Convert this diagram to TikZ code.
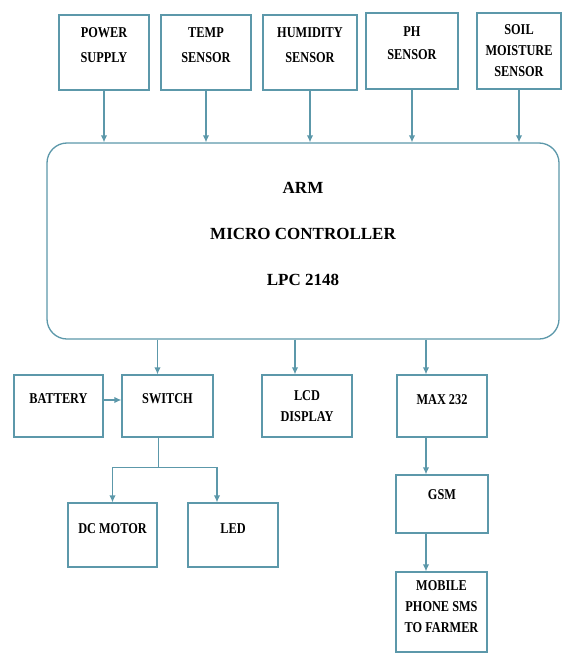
\documentclass[tikz,border=0pt]{standalone}
\usepackage{fontspec}
\setmainfont{Liberation Serif}
\newfontfamily\narrowfont[FakeStretch=0.82]{Liberation Serif}
\usetikzlibrary{arrows.meta}

\definecolor{boxline}{RGB}{92,152,170}

\tikzset{
  blk/.style 2 args={draw=boxline, line width=1.3pt, fill=white, inner sep=0pt,
    minimum width=#1, minimum height=#2},
  txt/.style={font=\narrowfont\bfseries\fontsize{15}{21}\selectfont, align=center, inner sep=0pt},
  bigtxt/.style={font=\bfseries\fontsize{17}{46}\selectfont, align=center, inner sep=0pt},
  wire/.style={draw=boxline, line width=1.3pt},
  arr/.style={wire, -{Latex[length=7pt, width=6.5pt]}}
}

\begin{document}
\begin{tikzpicture}[x=1pt, y=-1pt]
  \useasboundingbox (0,0) rectangle (563,653);
  % sensors and supply
  \node[blk={90}{75}, label={[txt, yshift=7]center:POWER\\[4pt]SUPPLY}] (pwr) at (104,52.5) {};
  \node[blk={90}{75}, label={[txt, yshift=7]center:TEMP\\[4pt]SENSOR}] (temp) at (206,52.5) {};
  \node[blk={94}{75}, label={[txt, yshift=7]center:HUMIDITY\\[4pt]SENSOR}] (hum) at (310,52.5) {};
  \node[blk={92}{76}, label={[txt, yshift=8]center:PH\\[2pt]SENSOR}] (ph) at (412,51) {};
  \node[blk={84}{76}, label={[txt]center:SOIL\\MOISTURE\\SENSOR}] (soil) at (519,51) {};
  % controller
  \node[blk={512}{196}, rounded corners=20pt,
        label={[bigtxt, yshift=7]center:ARM\\MICRO CONTROLLER\\LPC 2148}] (arm) at (303,241) {};
  \foreach \s in {pwr,temp,hum,ph,soil}
    \draw[arr] (\s.south) -- (\s.south |- arm.north);
  % second row
  \node[blk={89}{62}, label={[txt, yshift=7]center:BATTERY}] (bat) at (58.5,406) {};
  \node[blk={91}{62}, label={[txt, yshift=7]center:SWITCH}] (sw) at (167.5,406) {};
  \node[blk={90}{62}, label={[txt]center:LCD\\DISPLAY}] (lcd) at (307,406) {};
  \node[blk={90}{62}, label={[txt, yshift=6]center:MAX 232}] (max) at (442,406) {};
  % outputs
  \node[blk={89}{64}, label={[txt, yshift=6]center:DC MOTOR}] (dcm) at (112.5,535) {};
  \node[blk={90}{64}, label={[txt, yshift=6]center:LED}] (led) at (233,535) {};
  \node[blk={92}{58}, label={[txt, yshift=9]center:GSM}] (gsm) at (442,504) {};
  \node[blk={91}{80}, label={[txt, yshift=5]center:MOBILE\\PHONE SMS\\TO FARMER}] (mob) at (441.5,612) {};
  % connectors
  \coordinate (swin) at ([xshift=-10pt]sw.north);
  \coordinate (lcdin) at ([xshift=-12pt]lcd.north);
  \coordinate (maxin) at ([xshift=-16pt]max.north);
  \draw[arr] (swin |- arm.south) -- (swin);
  \draw[arr] (lcdin |- arm.south) -- (lcdin);
  \draw[arr] (maxin |- arm.south) -- (maxin);
  \coordinate (batout) at ([yshift=6pt]bat.east);
  \draw[arr] (batout) -- (batout -| sw.west);
  \coordinate (swout) at ([xshift=-9pt]sw.south);
  \coordinate (fork) at ([yshift=-30pt]swout);
  \coordinate (ledin) at ([xshift=-16pt]led.north);
  \draw[wire] (swout) -- (fork);
  \draw[arr] (fork) -| (dcm.north);
  \draw[arr] (fork) -| (ledin);
  \draw[arr] (maxin |- max.south) -- (maxin |- gsm.north);
  \draw[arr] (maxin |- gsm.south) -- (maxin |- mob.north);
\end{tikzpicture}
\end{document}
